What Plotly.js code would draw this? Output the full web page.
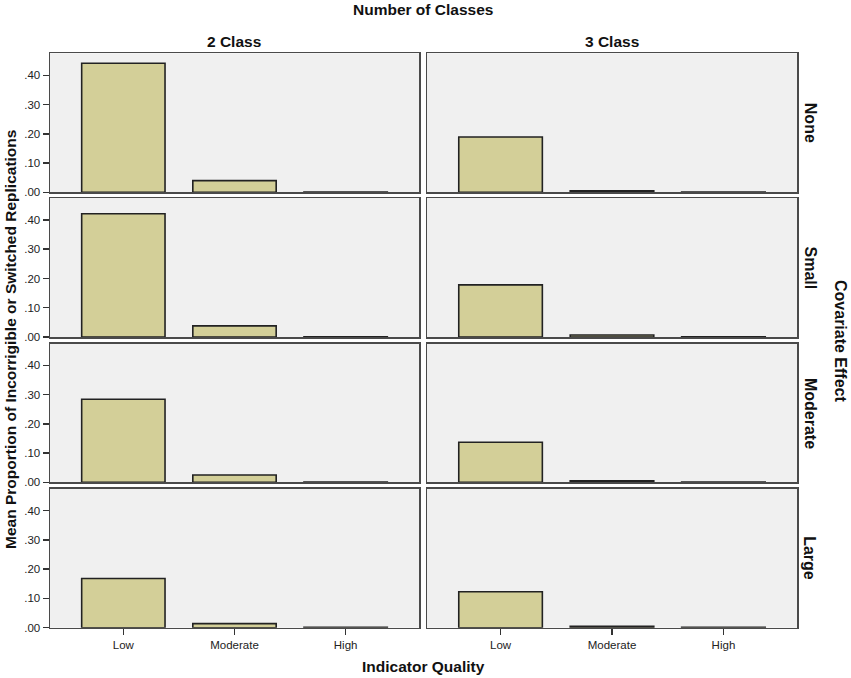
<!DOCTYPE html>
<html>
<head>
<meta charset="utf-8">
<script src="https://cdn.plot.ly/plotly-3.0.1.min.js"></script>
<style>html,body{margin:0;padding:0;background:#fff;}#chart{width:851px;height:678px;}</style>
</head>
<body>
<div id="chart"></div>
<script>
// Data
const qualities = ['Low', 'Moderate', 'High'];
const classLabels = ['2 Class', '3 Class'];
const covariateLabels = ['None', 'Small', 'Moderate', 'Large'];
const twoClassNone = [0.441, 0.040, 0.001];
const twoClassSmall = [0.421, 0.038, 0.001];
const twoClassModerate = [0.284, 0.025, 0.001];
const twoClassLarge = [0.168, 0.014, 0.001];
const threeClassNone = [0.189, 0.005, 0.001];
const threeClassSmall = [0.178, 0.007, 0.001];
const threeClassModerate = [0.137, 0.005, 0.001];
const threeClassLarge = [0.123, 0.005, 0.001];
const yTickVals = [0, 0.1, 0.2, 0.3, 0.4];
const yTickText = ['.00', '.10', '.20', '.30', '.40'];

const W = 851, H = 678;
const colX = [[50, 419], [427, 797]];
const rowY = [[53.3, 192.3], [198, 337], [343.5, 482.3], [488.7, 627.7]];
const grid = [
  [twoClassNone, threeClassNone],
  [twoClassSmall, threeClassSmall],
  [twoClassModerate, threeClassModerate],
  [twoClassLarge, threeClassLarge]
];

const font = 'Liberation Sans, Arial, sans-serif';
const traces = [];
const layout = {
  width: W, height: H,
  margin: {l: 0, r: 0, t: 0, b: 0},
  paper_bgcolor: '#ffffff',
  showlegend: false,
  font: {family: font, color: '#222'},
  annotations: [],
  shapes: []
};

let idx = 1;
for (let r = 0; r < 4; r++) {
  for (let c = 0; c < 2; c++) {
    const xa = 'x' + (idx === 1 ? '' : idx);
    const ya = 'y' + (idx === 1 ? '' : idx);
    traces.push({
      type: 'bar', x: qualities, y: grid[r][c], xaxis: xa, yaxis: ya,
      width: 0.75,
      marker: {color: '#d3cf98', line: {color: '#222222', width: 1.6}},
      hoverinfo: 'x+y'
    });
    const bottom = r === 3;
    layout['xaxis' + (idx === 1 ? '' : idx)] = {
      domain: [colX[c][0] / W, colX[c][1] / W],
      anchor: ya,
      range: [-0.66, 2.66],
      type: 'category',
      showline: true, mirror: true, linecolor: '#4a4a4a', linewidth: 1.5,
      showgrid: false, zeroline: false,
      ticks: bottom ? 'outside' : '', ticklen: 6, tickcolor: '#333', tickwidth: 1.5,
      showticklabels: bottom,
      tickfont: {size: 11.5, family: font, color: '#222'},
      fixedrange: true
    };
    layout['yaxis' + (idx === 1 ? '' : idx)] = {
      domain: [1 - rowY[r][1] / H, 1 - rowY[r][0] / H],
      anchor: xa,
      range: [0, 0.475],
      showline: true, mirror: true, linecolor: '#4a4a4a', linewidth: 1.5,
      showgrid: false, zeroline: false,
      tickvals: yTickVals, ticktext: yTickText,
      ticks: c === 0 ? 'outside' : '', ticklen: 6, tickcolor: '#333', tickwidth: 1.5,
      showticklabels: c === 0,
      tickfont: {size: 11.5, family: font, color: '#222'},
      fixedrange: true
    };
    layout.shapes.push({
      type: 'rect', xref: 'paper', yref: 'paper', layer: 'below',
      x0: colX[c][0] / W, x1: colX[c][1] / W,
      y0: 1 - rowY[r][1] / H, y1: 1 - rowY[r][0] / H,
      fillcolor: '#f0f0f0', line: {width: 0}
    });
    idx++;
  }
}

const titleSize = 15.5;
// Column headers
for (let c = 0; c < 2; c++) {
  layout.annotations.push({
    text: '<b>' + classLabels[c] + '</b>', xref: 'paper', yref: 'paper',
    x: (colX[c][0] + colX[c][1]) / 2 / W, y: 1 - 41 / H,
    showarrow: false, font: {size: titleSize, family: font, color: '#111'},
    xanchor: 'center', yanchor: 'middle'
  });
}
// Row labels
for (let r = 0; r < 4; r++) {
  layout.annotations.push({
    text: '<b>' + covariateLabels[r] + '</b>', xref: 'paper', yref: 'paper',
    x: 810 / W, y: 1 - (rowY[r][0] + rowY[r][1]) / 2 / H,
    textangle: 90, showarrow: false, font: {size: 16, family: font, color: '#111'},
    xanchor: 'center', yanchor: 'middle'
  });
}
// Overall titles
layout.annotations.push({
  text: '<b>Number of Classes</b>', xref: 'paper', yref: 'paper',
  x: 423 / W, y: 1 - 10 / H, showarrow: false,
  font: {size: titleSize, family: font, color: '#111'}, xanchor: 'center', yanchor: 'middle'
});
layout.annotations.push({
  text: '<b>Covariate Effect</b>', xref: 'paper', yref: 'paper',
  x: 841 / W, y: 1 - 341 / H, textangle: 90, showarrow: false,
  font: {size: 16, family: font, color: '#111'}, xanchor: 'center', yanchor: 'middle'
});
layout.annotations.push({
  text: '<b>Mean Proportion of Incorrigible or Switched Replications</b>', xref: 'paper', yref: 'paper',
  x: 10 / W, y: 1 - 340 / H, textangle: -90, showarrow: false,
  font: {size: titleSize, family: font, color: '#111'}, xanchor: 'center', yanchor: 'middle'
});
layout.annotations.push({
  text: '<b>Indicator Quality</b>', xref: 'paper', yref: 'paper',
  x: 423 / W, y: 1 - 666 / H, showarrow: false,
  font: {size: titleSize, family: font, color: '#111'}, xanchor: 'center', yanchor: 'middle'
});

Plotly.newPlot('chart', traces, layout, {displayModeBar: false, staticPlot: true});
</script>
</body>
</html>
